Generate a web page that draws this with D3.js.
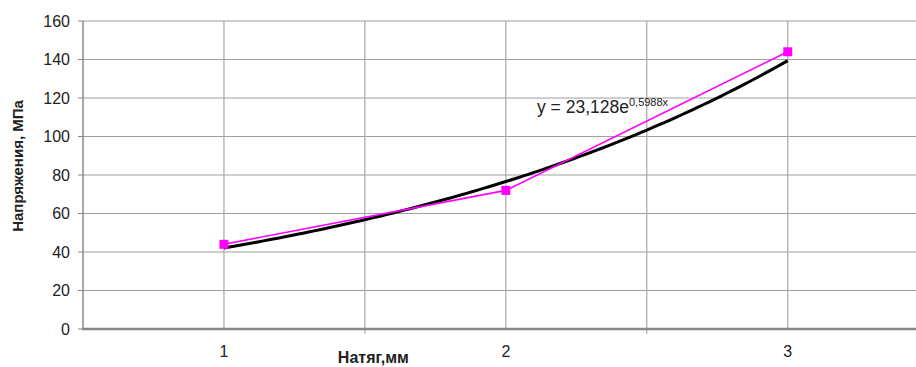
<!DOCTYPE html>
<html>
<head>
<meta charset="utf-8">
<script src="https://cdn.jsdelivr.net/npm/d3@7"></script>
<style>
  body { margin: 0; background: #fff; }
  svg { display: block; font-family: "Liberation Sans", Arial, sans-serif; }
</style>
</head>
<body>
<svg id="drawing_region"></svg>
<script>
// measured points
var tension = [1, 2, 3];
var stress = [44, 72, 144];
// exponential trendline y = a*e^(b*x), coefficients as printed on the chart
var trendA = 23.128;
var trendB = 0.5988;
var yTicks = [0, 20, 40, 60, 80, 100, 120, 140, 160];
var xTicks = [1, 2, 3];
var xBounds = [1.5, 2.5];

var W = 916, H = 367;
var margin = { top: 21, right: 0, bottom: 38, left: 83 };
var width = W - margin.left - margin.right;
var height = H - margin.top - margin.bottom;

var svg = d3.select('#drawing_region')
    .attr('width', W)
    .attr('height', H)
    .append('g')
    .attr('transform', 'translate(' + margin.left + ',' + margin.top + ')');

var xScale = d3.scaleLinear()
    .domain([0.5, 3.455])
    .range([0, width]);

var yScale = d3.scaleLinear()
    .domain([0, 160])
    .range([height, 0]);

// horizontal grid
svg.selectAll('.hgrid')
    .data(yTicks.filter(d => d > 0))
    .enter()
    .append('line')
    .attr('x1', 0)
    .attr('x2', width)
    .attr('y1', d => yScale(d))
    .attr('y2', d => yScale(d))
    .attr('stroke', '#a0a0a0')
    .attr('stroke-width', 1.2);

// vertical grid at categories and between them
svg.selectAll('.vgrid')
    .data(xTicks.concat(xBounds))
    .enter()
    .append('line')
    .attr('x1', d => xScale(d))
    .attr('x2', d => xScale(d))
    .attr('y1', 0)
    .attr('y2', d => xBounds.indexOf(d) >= 0 ? height + 5 : height)
    .attr('stroke', '#a8a8a8')
    .attr('stroke-width', 1.2);

// axes
svg.append('line')
    .attr('x1', 0).attr('x2', 0)
    .attr('y1', 0).attr('y2', height)
    .attr('stroke', '#888').attr('stroke-width', 1.5);

svg.append('line')
    .attr('x1', -1).attr('x2', width)
    .attr('y1', height).attr('y2', height)
    .attr('stroke', '#888').attr('stroke-width', 2.5);

// y ticks + labels
svg.selectAll('.ytick')
    .data(yTicks)
    .enter()
    .append('line')
    .attr('x1', -5).attr('x2', 0)
    .attr('y1', d => yScale(d)).attr('y2', d => yScale(d))
    .attr('stroke', '#888').attr('stroke-width', 1);

svg.selectAll('.ylab')
    .data(yTicks)
    .enter()
    .append('text')
    .attr('x', -13)
    .attr('y', d => yScale(d))
    .attr('dy', '0.35em')
    .attr('text-anchor', 'end')
    .style('font-size', '16px')
    .style('fill', '#222')
    .text(d => d);

svg.selectAll('.xlab')
    .data(xTicks)
    .enter()
    .append('text')
    .attr('x', d => xScale(d))
    .attr('y', height + 28)
    .attr('text-anchor', 'middle')
    .style('font-size', '16px')
    .style('fill', '#222')
    .text(d => d);

// trendline
var trendData = d3.range(1, 3.0001, 0.02).map(x => [x, trendA * Math.exp(trendB * x)]);
svg.append('path')
    .datum(trendData)
    .attr('fill', 'none')
    .attr('stroke', '#000')
    .attr('stroke-width', 3)
    .attr('d', d3.line().x(d => xScale(d[0])).y(d => yScale(d[1])));

// data line
var pts = tension.map((t, i) => [t, stress[i]]);
svg.append('path')
    .datum(pts)
    .attr('fill', 'none')
    .attr('stroke', '#ff00ff')
    .attr('stroke-width', 1.6)
    .attr('d', d3.line().x(d => xScale(d[0])).y(d => yScale(d[1])));

svg.selectAll('.pt')
    .data(pts)
    .enter()
    .append('rect')
    .attr('x', d => xScale(d[0]) - 4.5)
    .attr('y', d => yScale(d[1]) - 4.5)
    .attr('width', 9)
    .attr('height', 9)
    .attr('fill', '#ff00ff');

// equation label
var eq = svg.append('text')
    .attr('x', 454)
    .attr('y', 92)
    .style('font-size', '17.5px')
    .style('fill', '#222');
eq.append('tspan').text('y = ' + String(trendA).replace('.', ',') + 'e');
eq.append('tspan')
    .attr('dy', -7)
    .style('font-size', '11px')
    .text(String(trendB).replace('.', ',') + 'x');

// axis titles
svg.append('text')
    .attr('x', xScale(1.53))
    .attr('y', height + 34)
    .attr('text-anchor', 'middle')
    .style('font-size', '16px')
    .style('font-weight', 'bold')
    .style('fill', '#222')
    .text('Натяг,мм');

svg.append('text')
    .attr('transform', 'rotate(-90)')
    .attr('x', -(166 - margin.top))
    .attr('y', -60)
    .attr('text-anchor', 'middle')
    .style('font-size', '15px')
    .style('font-weight', 'bold')
    .style('fill', '#222')
    .text('Напряжения, МПа');
</script>
</body>
</html>
